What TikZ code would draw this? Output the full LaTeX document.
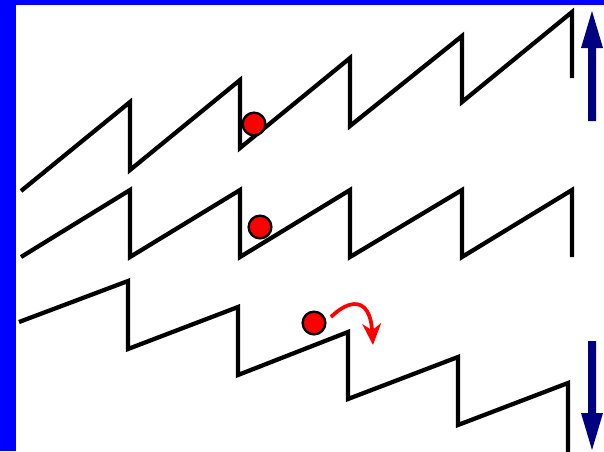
\documentclass[tikz,border=0pt]{standalone}
\usetikzlibrary{arrows.meta}
\definecolor{frameblue}{RGB}{0,0,255}
\definecolor{arrownavy}{RGB}{0,0,128}
\definecolor{ballred}{RGB}{255,0,0}
\begin{document}
\begin{tikzpicture}[x=0.75pt,y=-0.75pt,
  saw/.style={line width=3.2pt,black,line join=miter},
  ball/.style={circle,fill=ballred,draw=black,line width=1.8pt,minimum size=17pt,inner sep=0pt},
  bigarrow/.style={fill=arrownavy}]
\useasboundingbox (0,0) rectangle (604,451);
\fill[white] (0,0) rectangle (604,451);
\fill[frameblue] (0,0) rectangle (16,451);
\fill[frameblue] (0,0) rectangle (604,5);
% top row
\draw[saw] (21,191) -- (130,102) -- (130,170) -- (240,80) -- (240,148) -- (350,58) -- (350,126) -- (462,36) -- (462,102) -- (572,12) -- (572,78);
% middle row
\draw[saw] (21,257) -- (130,190) -- (130,257) -- (240,190) -- (240,257) -- (350,190) -- (350,257) -- (462,190) -- (462,257) -- (572,190) -- (572,257);
% bottom row
\draw[saw] (19,322) -- (128,281) -- (128,349) -- (238,307) -- (238,375) -- (348,332) -- (348,399) -- (458,357) -- (458,425) -- (568,383) -- (568,455);
% balls
\node[ball] (b1) at (254,124) {};
\node[ball] (b2) at (260,227) {};
\node[ball] (b3) at (314,323) {};
% red arrow
\coordinate (ra) at (331,317);
\coordinate (rb) at (373,345);
\draw[ballred,line width=2.8pt,-{Stealth[length=16pt,width=14pt,inset=5pt]}] (ra) .. controls (348,300) and (370,295) .. (rb);
% navy arrows
\fill[bigarrow] (588,121) -- (596,121) -- (596,48) -- (603,48) -- (592,11) -- (581,48) -- (588,48) -- cycle;
\fill[bigarrow] (588,341) -- (596,341) -- (596,413) -- (603,413) -- (592,450) -- (581,413) -- (588,413) -- cycle;
\end{tikzpicture}
\end{document}
